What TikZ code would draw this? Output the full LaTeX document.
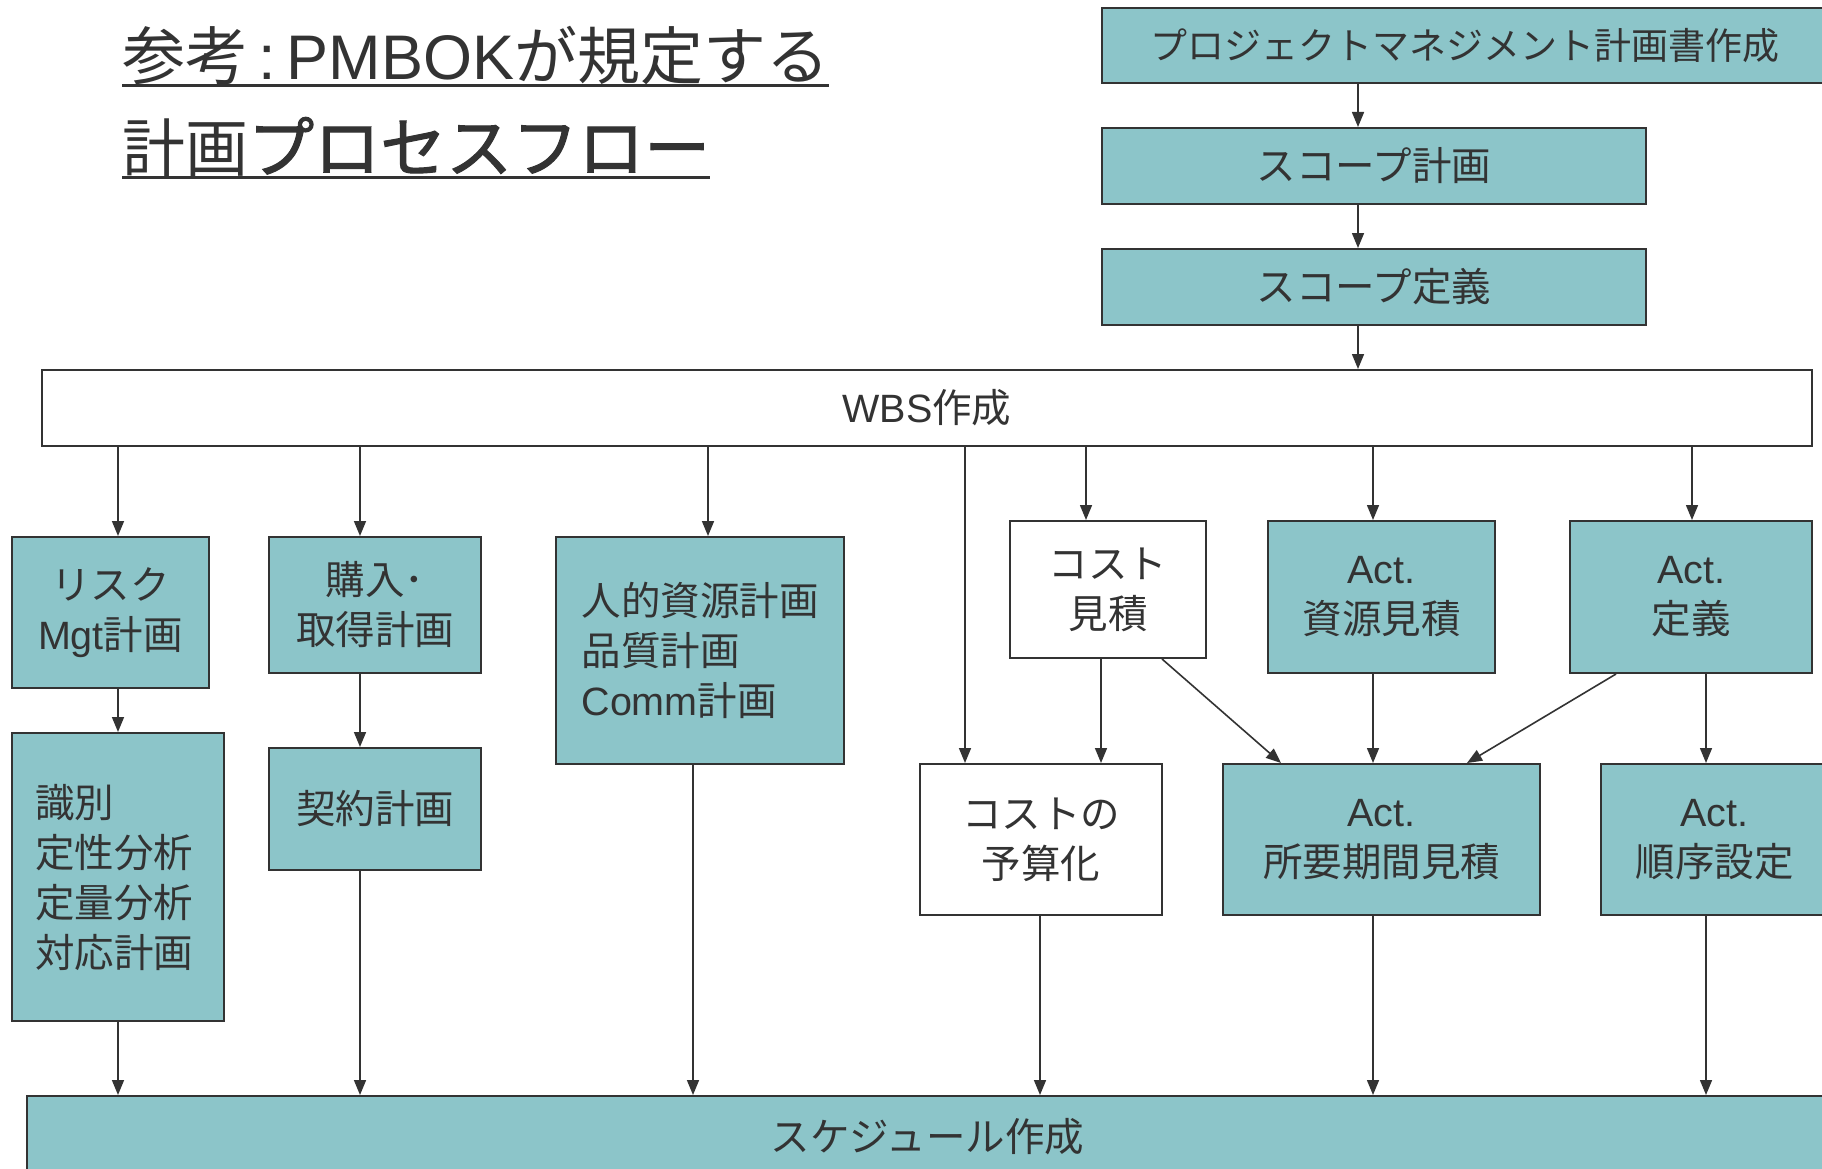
\documentclass[tikz,border=0pt]{standalone}
\usepackage{fontspec}
\setmainfont{Noto Sans CJK JP}
\newfontfamily\lat{Liberation Sans}
\newfontfamily\jpm[FakeBold=1.6]{Noto Sans CJK JP}
\usetikzlibrary{arrows.meta}
\definecolor{tealfill}{HTML}{8CC5C9}
\definecolor{lc}{HTML}{333333}
\begin{document}
\begin{tikzpicture}[x=1pt,y=-1pt,
  box/.style={draw=lc, line width=2pt, fill=tealfill, text=lc, inner sep=0pt, align=center, font=\fontsize{39.5}{50}\selectfont},
  wbox/.style={box, fill=white},
  arr/.style={draw=lc, line width=1.6pt, -{Triangle[length=15pt,width=12pt]}},
  ttl/.style={text=lc, inner sep=0pt, anchor=base west},
  ul/.style={draw=lc, line width=3pt}]
\useasboundingbox (0,0) rectangle (1822,1169);
\clip (0,0) rectangle (1822,1169);
\fill[white] (0,0) rectangle (1822,1169);

% title
\node[ttl, font=\fontsize{63}{70}\selectfont] (t1) at (122,80) {参考{\lat\,:\,PMBOK}が規定する};
\node[ttl, font=\fontsize{63}{70}\selectfont] (t2) at (122,172) {計画{\fontsize{66}{70}\jpm プロセスフロー}};
\draw[ul] ([yshift=-6pt]t1.base west) -- ([yshift=-6pt]t1.base east);
\draw[ul] ([yshift=-6pt]t2.base west) -- ([yshift=-6pt]t2.base east);

% nodes
\node[box, minimum width=726pt, minimum height=75pt, font=\fontsize{37}{46}\selectfont] (pm) at (1465,45.5) {プロジェクトマネジメント計画書作成};
\node[box, minimum width=544pt, minimum height=76pt] (sp) at (1374,166) {スコープ計画};
\node[box, minimum width=544pt, minimum height=76pt] (sd) at (1374,287) {スコープ定義};
\node[wbox, minimum width=1770pt, minimum height=76pt] (wbs) at (927,408) {{\lat WBS}作成};

\node[box, minimum width=197pt, minimum height=151pt] (risk) at (110.5,612.5) {リスク\\{\lat Mgt}計画};
\node[box, minimum width=212pt, minimum height=288pt, align=left, text width=166pt] (iden) at (118,877) {識別\\定性分析\\定量分析\\対応計画};
\node[box, minimum width=212pt, minimum height=136pt] (buy) at (375,605) {購入･\\取得計画};
\node[box, minimum width=212pt, minimum height=122pt] (cont) at (375,809) {契約計画};
\node[box, minimum width=288pt, minimum height=227pt, align=left] (hum) at (700,650.5) {人的資源計画\\品質計画\\{\lat Comm}計画};
\node[wbox, minimum width=196pt, minimum height=137pt] (ce) at (1108,589.5) {コスト\\見積};
\node[box, minimum width=227pt, minimum height=152pt] (are) at (1381.5,597) {{\lat Act.}\\資源見積};
\node[box, minimum width=242pt, minimum height=152pt] (ad) at (1691,597) {{\lat Act.}\\定義};
\node[wbox, minimum width=242pt, minimum height=151pt] (bud) at (1041,839.5) {コストの\\予算化};
\node[box, minimum width=317pt, minimum height=151pt] (dur) at (1381.5,839.5) {{\lat Act.}\\所要期間見積};
\node[box, minimum width=227pt, minimum height=151pt] (seq) at (1714.5,839.5) {{\lat Act.}\\順序設定};
\node[box, minimum width=1801pt, minimum height=82pt] (sch) at (927.5,1137) {スケジュール作成};

% connector columns
\coordinate (c0) at (1358,0);
\coordinate (c1) at (118,0);
\coordinate (c2) at (360,0);
\coordinate (c3) at (708,0);
\coordinate (c3b) at (693,0);
\coordinate (c4) at (965,0);
\coordinate (c5) at (1086,0);
\coordinate (c6) at (1373,0);
\coordinate (c7) at (1692,0);
\coordinate (c8) at (1101,0);
\coordinate (c9) at (1040,0);
\coordinate (c10) at (1706,0);
\coordinate (d1) at (1162,0);
\coordinate (d2) at (1281,0);
\coordinate (d3) at (1616,0);
\coordinate (d4) at (1467,0);

\draw[arr] (pm.south -| c0) -- (sp.north -| c0);
\draw[arr] (sp.south -| c0) -- (sd.north -| c0);
\draw[arr] (sd.south -| c0) -- (wbs.north -| c0);

\draw[arr] (wbs.south -| c1) -- (risk.north -| c1);
\draw[arr] (risk.south -| c1) -- (iden.north -| c1);
\draw[arr] (iden.south -| c1) -- (sch.north -| c1);

\draw[arr] (wbs.south -| c2) -- (buy.north -| c2);
\draw[arr] (buy.south -| c2) -- (cont.north -| c2);
\draw[arr] (cont.south -| c2) -- (sch.north -| c2);

\draw[arr] (wbs.south -| c3) -- (hum.north -| c3);
\draw[arr] (hum.south -| c3b) -- (sch.north -| c3b);

\draw[arr] (wbs.south -| c4) -- (bud.north -| c4);
\draw[arr] (wbs.south -| c5) -- (ce.north -| c5);
\draw[arr] (ce.south -| c8) -- (bud.north -| c8);
\draw[arr] (bud.south -| c9) -- (sch.north -| c9);

\draw[arr] (wbs.south -| c6) -- (are.north -| c6);
\draw[arr] (are.south -| c6) -- (dur.north -| c6);
\draw[arr] (dur.south -| c6) -- (sch.north -| c6);

\draw[arr] (wbs.south -| c7) -- (ad.north -| c7);
\draw[arr] (ad.south -| c10) -- (seq.north -| c10);
\draw[arr] (seq.south -| c10) -- (sch.north -| c10);

\draw[arr] (ce.south -| d1) -- (dur.north -| d2);
\draw[arr] (ad.south -| d3) -- (dur.north -| d4);
\end{tikzpicture}
\end{document}
